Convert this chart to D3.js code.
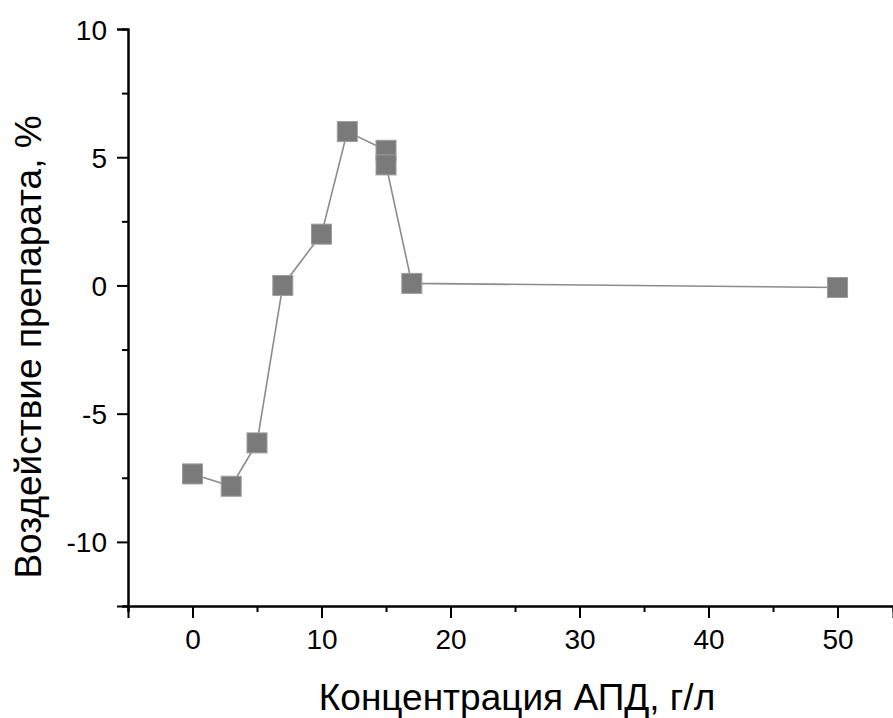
<!DOCTYPE html>
<html><head><meta charset="utf-8">
<script src="https://cdn.jsdelivr.net/npm/d3@7"></script>
<style>body{margin:0;background:#fff}svg{display:block}</style>
</head><body>
<svg id="c" width="893" height="718"></svg>
<script>
const concentration = [0, 3, 5, 7, 10, 12, 15, 15, 17, 50];
const effect = [-7.35, -7.83, -6.14, 0, 2, 6, 5.27, 4.7, 0.08, -0.08];
const xMajorTicks = [0, 10, 20, 30, 40, 50];
const xMinorTicks = [-5, 5, 15, 25, 35, 45];
const yMajorTicks = [-10, -5, 0, 5, 10];
const yMinorTicks = [-12.5, -7.5, -2.5, 2.5, 7.5];
const xTitle = "Концентрация АПД, г/л";
const yTitle = "Воздействие препарата, %";

const svg = d3.select("#c");
const L = 128, R = 893, T = 29, B = 606;
const x = d3.scaleLinear().domain([-5, 54.3]).range([L, R]);
const y = d3.scaleLinear().domain([-12.5, 10]).range([B, T]);
const data = concentration.map((c, i) => ({c, v: effect[i]}));
const fmt = d => String(d);

// line
svg.append("path").datum(data)
  .attr("fill", "none").attr("stroke", "#8c8c8c").attr("stroke-width", 1.6)
  .attr("d", d3.line().x(d => x(d.c)).y(d => y(d.v)));

// markers
svg.selectAll("rect.m").data(data).join("rect").attr("class", "m")
  .attr("x", d => x(d.c) - 10).attr("y", d => y(d.v) - 10)
  .attr("width", 20).attr("height", 20)
  .attr("fill", "#7a7a7a").attr("stroke", "#9c9c9c").attr("stroke-width", 1);

// axes
const font = "'Liberation Sans', Arial, sans-serif";
const xAxisMajor = d3.axisBottom(x).tickValues(xMajorTicks).tickSize(12).tickPadding(11).tickFormat(fmt);
const xAxisMinor = d3.axisBottom(x).tickValues(xMinorTicks).tickSize(6).tickFormat("");
const gx = svg.append("g").attr("transform", `translate(0,${B})`).call(xAxisMajor);
svg.append("g").attr("transform", `translate(0,${B})`).call(xAxisMinor);
gx.selectAll("text").attr("font-family", font).attr("font-size", 28).attr("fill", "#000");

const yAxisMajor = d3.axisLeft(y).tickValues(yMajorTicks).tickSize(11).tickPadding(10).tickFormat(fmt);
const yAxisMinor = d3.axisLeft(y).tickValues(yMinorTicks).tickSize(6).tickFormat("");
const gy = svg.append("g").attr("transform", `translate(${L},0)`).call(yAxisMajor);
svg.append("g").attr("transform", `translate(${L},0)`).call(yAxisMinor);
gy.selectAll("text").attr("font-family", font).attr("font-size", 28).attr("fill", "#000").attr("dy", "0.36em");

svg.selectAll(".domain").attr("stroke", "#000").attr("stroke-width", 2);
svg.selectAll(".tick line").attr("stroke", "#000").attr("stroke-width", 2);

// titles
svg.append("text").attr("x", 517).attr("y", 710).attr("text-anchor", "middle")
  .attr("font-family", font).attr("font-size", 37).attr("fill", "#000").text(xTitle);
svg.append("text").attr("transform", `translate(41,347) rotate(-90)`).attr("text-anchor", "middle")
  .attr("font-family", font).attr("font-size", 37).attr("fill", "#000").text(yTitle);
</script>
</body></html>
